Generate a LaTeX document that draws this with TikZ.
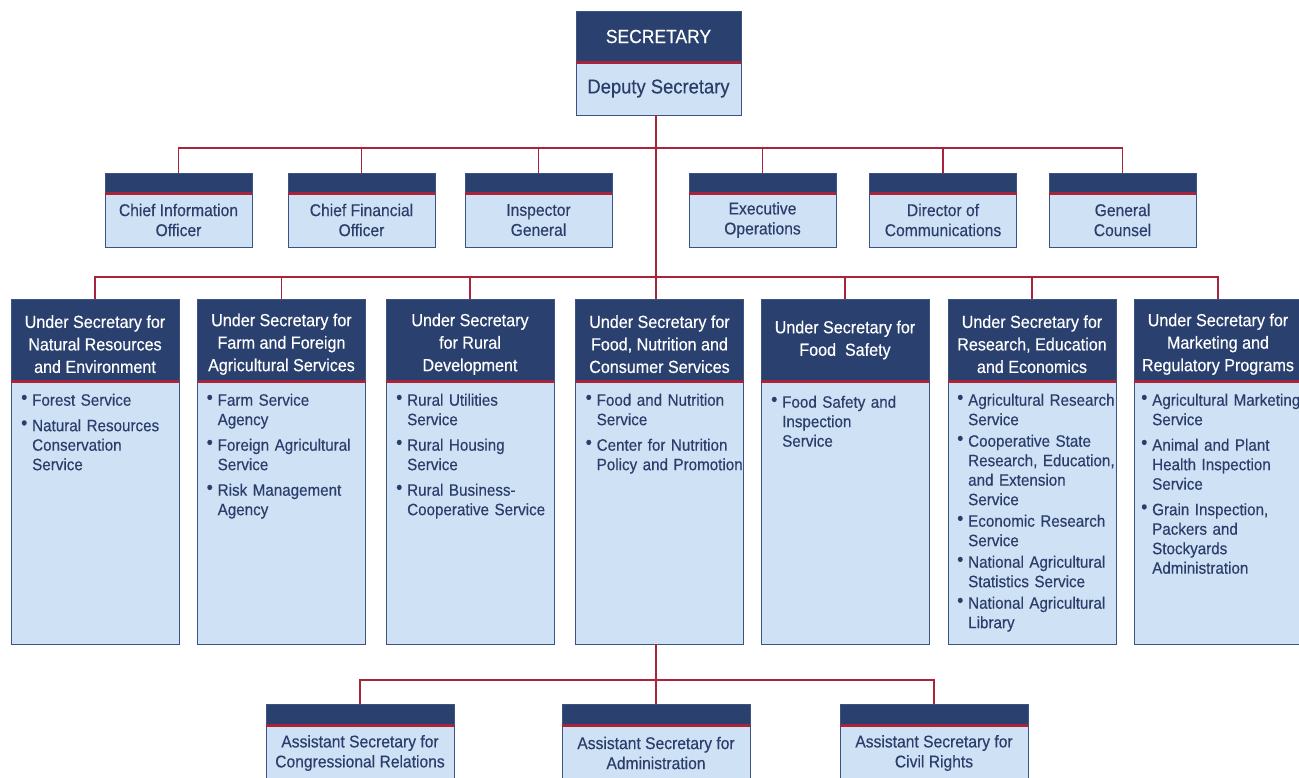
\documentclass[tikz,border=0pt]{standalone}
\usepackage{fontspec}
\setmainfont{Liberation Sans}[FakeStretch=0.92, FakeBold=0.35]
\usetikzlibrary{positioning}

\definecolor{usdanavy}{HTML}{2A4170}
\definecolor{usdaedge}{HTML}{3B5282}
\definecolor{usdapale}{HTML}{CFE1F5}
\definecolor{usdared}{HTML}{A8243A}
\definecolor{usdaink}{HTML}{2B3E6B}

% bullet list inside the agency boxes
\newlength\bulgap
\setlength\bulgap{6pt}
\newcommand\bul[1]{\par\noindent\hangindent=11pt\hangafter=1\makebox[11pt][l]{\raisebox{2pt}{\fontsize{19}{19}\selectfont\textbullet}}\strut#1\strut\par\vspace{\bulgap}}
% pushes a three-line header down a little
\newcommand\hdstrut{\rule{0pt}{21pt}}

\begin{document}
\begin{tikzpicture}[x=1pt, y=-1pt]
    % Define styles
    \tikzstyle{headbox}=[rectangle, draw=usdaedge, fill=usdanavy, text=white, inner sep=0pt, outer sep=0pt, align=center, line width=0.8pt]
    \tikzstyle{bodybox}=[rectangle, draw=usdaedge, fill=usdapale, text=usdaink, inner sep=0pt, outer sep=0pt, align=center, line width=0.8pt]
    \tikzstyle{staffhead}=[headbox, minimum width=147pt, minimum height=20pt]
    \tikzstyle{staffbody}=[bodybox, minimum width=147pt, minimum height=54pt, font=\fontsize{17}{20}\selectfont]
    \tikzstyle{underhead}=[headbox, minimum width=168pt, minimum height=82pt, font=\fontsize{17.5}{22.5}\selectfont]
    \tikzstyle{underbody}=[bodybox, minimum width=168pt, minimum height=263pt]
    \tikzstyle{asthead}=[headbox, minimum width=188pt, minimum height=21pt]
    \tikzstyle{astbody}=[bodybox, minimum width=188pt, minimum height=56pt, font=\fontsize{17}{20}\selectfont]
    \tikzstyle{services}=[text=usdaink, text width=170pt, align=left, inner sep=0pt, anchor=north west, font=\fontsize{16.5}{19.5}\selectfont]
    \tikzstyle{link}=[draw=usdared, line width=1.6pt]
    \tikzstyle{redsep}=[draw=usdared, line width=3pt]

    \useasboundingbox (0,0) rectangle (1299,777);

    % Secretary
    \node[headbox, minimum width=165pt, minimum height=51pt, font=\fontsize{19}{22}\selectfont] (sec) at (658.5,36.5) {SECRETARY};
    \node[bodybox, minimum width=165pt, minimum height=53pt, font=\fontsize{20}{24}\selectfont, below=0pt of sec] (dep) {Deputy Secretary};

    % Staff offices
    \node[staffhead] (cio) at (178.5,183) {};
    \node[staffbody, below=0pt of cio] (cio-body) {Chief Information\\Officer};
    \node[staffhead] (cfo) at (361.5,183) {};
    \node[staffbody, below=0pt of cfo] (cfo-body) {Chief Financial\\Officer};
    \node[staffhead] (ig) at (538.5,183) {};
    \node[staffbody, below=0pt of ig] (ig-body) {Inspector\\General};
    \node[staffhead] (exo) at (762.5,183) {};
    \node[staffbody, below=0pt of exo] (exo-body) {Executive\\Operations};
    \node[staffhead] (doc) at (943,183) {};
    \node[staffbody, below=0pt of doc] (doc-body) {Director of\\Communications};
    \node[staffhead] (gc) at (1122.5,183) {};
    \node[staffbody, below=0pt of gc] (gc-body) {General\\Counsel};

    % Under Secretaries
    \node[underhead] (nre) at (95,340) {\hdstrut Under Secretary for\\Natural Resources\\and Environment};
    \node[underbody, below=0pt of nre] (nre-body) {};
    \node[services] (nre-list) at ([xshift=10pt,yshift=-5pt]nre-body.north west)
        {\bul{Forest Service}\bul{Natural Resources\newline Conservation\newline Service}};

    \node[underhead] (fas) at (281.5,340) {\hdstrut Under Secretary for\\Farm and Foreign\\Agricultural Services};
    \node[underbody, below=0pt of fas] (fas-body) {};
    \node[services] (fas-list) at ([xshift=9pt,yshift=-5pt]fas-body.north west)
        {\bul{Farm Service\newline Agency}\bul{Foreign Agricultural\newline Service}\bul{Risk Management\newline Agency}};

    \node[underhead] (rd) at (470,340) {\hdstrut Under Secretary\\for Rural\\Development};
    \node[underbody, below=0pt of rd] (rd-body) {};
    \node[services] (rd-list) at ([xshift=10pt,yshift=-5pt]rd-body.north west)
        {\bul{Rural Utilities\newline Service}\bul{Rural Housing\newline Service}\bul{Rural Business-\newline Cooperative Service}};

    \node[underhead] (food) at (659.5,340) {\hdstrut Under Secretary for\\Food, Nutrition and\\Consumer Services};
    \node[underbody, below=0pt of food] (food-body) {};
    \node[services] (food-list) at ([xshift=10pt,yshift=-5pt]food-body.north west)
        {\bul{Food and Nutrition\newline Service}\bul{Center for Nutrition\newline Policy and Promotion}};

    \node[underhead] (fs) at (845,340) {Under Secretary for\\Food\ \ Safety};
    \node[underbody, below=0pt of fs] (fs-body) {};
    \node[services] (fs-list) at ([xshift=10pt,yshift=-7pt]fs-body.north west)
        {\bul{Food Safety and\newline Inspection\newline Service}};

    \node[underhead] (ree) at (1032,340) {\hdstrut Under Secretary for\\Research, Education\\and Economics};
    \node[underbody, below=0pt of ree] (ree-body) {};
    \node[services] (ree-list) at ([xshift=9pt,yshift=-5pt]ree-body.north west)
        {\setlength\bulgap{2pt}\bul{Agricultural Research\newline Service}\bul{Cooperative State\newline Research, Education,\newline and Extension\newline Service}\bul{Economic Research\newline Service}\bul{National Agricultural\newline Statistics Service}\bul{National Agricultural\newline Library}};

    \node[underhead] (mrp) at (1218,340) {\hdstrut Under Secretary for\\Marketing and\\Regulatory Programs};
    \node[underbody, below=0pt of mrp] (mrp-body) {};
    \node[services] (mrp-list) at ([xshift=7pt,yshift=-5pt]mrp-body.north west)
        {\bul{Agricultural Marketing\newline Service}\bul{Animal and Plant\newline Health Inspection\newline Service}\bul{Grain Inspection,\newline Packers and\newline Stockyards\newline Administration}};

    % Assistant Secretaries
    \node[asthead] (cong) at (360,714.5) {};
    \node[astbody, below=0pt of cong] (cong-body) {Assistant Secretary for\\Congressional Relations};
    \node[asthead] (admin) at (656,714.5) {};
    \node[astbody, below=0pt of admin] (admin-body) {Assistant Secretary for\\Administration};
    \node[asthead] (civil) at (934,714.5) {};
    \node[astbody, below=0pt of civil] (civil-body) {Assistant Secretary for\\Civil Rights};

    % red rule under every header
    \foreach \n in {sec,cio,cfo,ig,exo,doc,gc,nre,fas,rd,food,fs,ree,mrp,cong,admin,civil}
        \draw[redsep] (\n.south west) -- (\n.south east);

    % Connections
    \coordinate (staffbus) at (656,148);
    \coordinate (underbus) at (656,277);
    \coordinate (asstbus) at (656,680);

    \draw[link] (staffbus |- dep.south) -- (staffbus |- food.north);
    \draw[link] (cio.north) |- (staffbus) -| (gc.north);
    \foreach \n in {cfo,ig,exo,doc}
        \draw[link] (\n.north) -- (\n.north |- staffbus);
    \draw[link] (nre.north) |- (underbus) -| (mrp.north);
    \foreach \n in {fas,rd,fs,ree}
        \draw[link] (\n.north) -- (\n.north |- underbus);
    \draw[link] (asstbus |- food-body.south) -- (admin.north);
    \draw[link] (cong.north) |- (asstbus) -| (civil.north);
\end{tikzpicture}
\end{document}
